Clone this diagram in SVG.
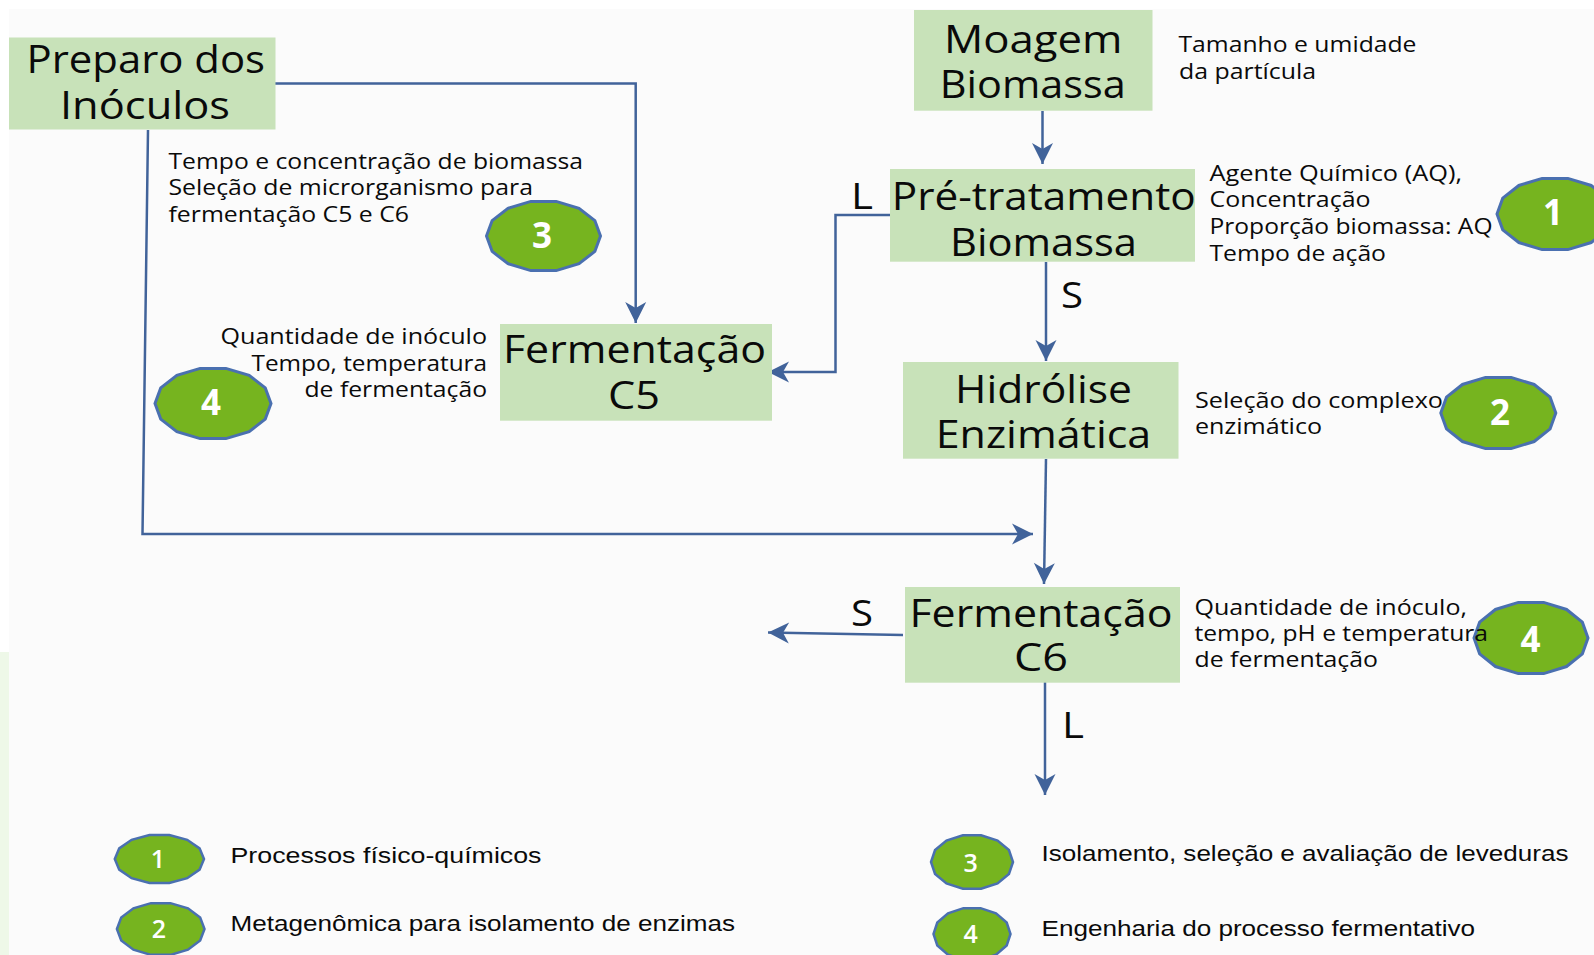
<svg xmlns="http://www.w3.org/2000/svg" xmlns:xlink="http://www.w3.org/1999/xlink" width="1594" height="955" viewBox="0 0 1594 955">
<style>
text{font-family:"Open Sans","Noto Sans",sans-serif;fill:#0a0a0a}
.box{fill:#c8e2b9}
.n{font-size:38px}
.l{font-size:37px}
.s{font-size:22px}
.e{font-family:"Liberation Sans",Arial,sans-serif;font-size:22px}
.b{fill:#76b41f;stroke:#4a70b0;stroke-width:3}
.d{fill:#fff;font-size:35px;font-weight:700;text-anchor:middle}
.g{fill:#fff;font-size:25px;font-weight:600;text-anchor:middle}
.c{fill:none;stroke:#41639a;stroke-width:2.5;stroke-linejoin:miter}
.a{marker-end:url(#arrow)}
</style>
<defs>
<marker id="arrow" markerUnits="userSpaceOnUse" markerWidth="24" markerHeight="24" refX="22" refY="11.5" orient="auto" viewBox="0 0 24 23"><path d="M22,11.5 L1,1 L7,11.5 L1,22 Z" fill="#41639a"/></marker>
<polygon id="oct" vector-effect="non-scaling-stroke" points="1,0 0.901,0.434 0.623,0.782 0.223,0.975 -0.223,0.975 -0.623,0.782 -0.901,0.434 -1,0 -0.901,-0.434 -0.623,-0.782 -0.223,-0.975 0.223,-0.975 0.623,-0.782 0.901,-0.434"/>
</defs>
<rect width="1594" height="955" fill="#fff"/>
<rect x="0" y="652" width="9" height="303" fill="#eef8e8"/>
<rect x="9" y="9" width="1585" height="946" fill="#fbfbfb"/>
<g id="connectors">
<path class="c a" d="M275,83.5H635.7V323"/>
<path class="c a" d="M148,130L142.5,534H1033"/>
<path class="c a" d="M1042.5,111V164"/>
<path class="c a" d="M890,215H835.5V372H768"/>
<path class="c a" d="M1046,262V361"/>
<path class="c a" d="M1046,459L1044,584"/>
<path class="c a" d="M903,635L768,632.5"/>
<path class="c a" d="M1045,680V795"/>
</g>
<g id="preparo"><rect class="box" x="9" y="37.5" width="266.5" height="92"/>
<text class="n" x="26.5" y="73" textLength="238.5" lengthAdjust="spacingAndGlyphs">Preparo dos</text>
<text class="n" x="60" y="118.5" textLength="170" lengthAdjust="spacingAndGlyphs">Inóculos</text></g>
<g id="moagem"><rect class="box" x="914" y="10" width="238.5" height="100.7"/>
<text class="n" x="944" y="52.5" textLength="178.5" lengthAdjust="spacingAndGlyphs">Moagem</text>
<text class="n" x="939.8" y="98.2" textLength="186" lengthAdjust="spacingAndGlyphs">Biomassa</text></g>
<g id="pretratamento"><rect class="box" x="890" y="169" width="305" height="92.7"/>
<text class="n" x="891.7" y="209.5" textLength="304" lengthAdjust="spacingAndGlyphs">Pré-tratamento</text>
<text class="n" x="950" y="255.5" textLength="187" lengthAdjust="spacingAndGlyphs">Biomassa</text></g>
<g id="hidrolise"><rect class="box" x="903" y="362" width="275.5" height="96.7"/>
<text class="n" x="955" y="402.5" textLength="177" lengthAdjust="spacingAndGlyphs">Hidrólise</text>
<text class="n" x="935.7" y="448" textLength="215.5" lengthAdjust="spacingAndGlyphs">Enzimática</text></g>
<g id="fermentacao-c5"><rect class="box" x="500" y="324" width="272" height="96.7"/>
<text class="n" x="503" y="363" textLength="263" lengthAdjust="spacingAndGlyphs">Fermentação</text>
<text class="n" x="608" y="408.5" textLength="52" lengthAdjust="spacingAndGlyphs">C5</text></g>
<g id="fermentacao-c6"><rect class="box" x="905" y="587" width="275" height="95.7"/>
<text class="n" x="909.5" y="626.5" textLength="263" lengthAdjust="spacingAndGlyphs">Fermentação</text>
<text class="n" x="1014" y="670.5" textLength="54" lengthAdjust="spacingAndGlyphs">C6</text></g>
<g id="badge-1"><use href="#oct" class="b" transform="translate(1555,214) scale(58,36.5)"/><text class="d" x="1553" y="225">1</text></g>
<g id="badge-2"><use href="#oct" class="b" transform="translate(1498.3,413) scale(57.5,36.5)"/><text class="d" x="1500" y="424.5">2</text></g>
<g id="badge-3"><use href="#oct" class="b" transform="translate(543.5,236) scale(57,35.5)"/><text class="d" x="542" y="248">3</text></g>
<g id="badge-4a"><use href="#oct" class="b" transform="translate(213,403.5) scale(58,36)"/><text class="d" x="211" y="414.5">4</text></g>
<g id="badge-4b"><use href="#oct" class="b" transform="translate(1531,638) scale(57,36.5)"/><text class="d" x="1530.6" y="652">4</text></g>
<g id="labels">
<text class="l" x="851" y="208.5" textLength="22" lengthAdjust="spacingAndGlyphs">L</text>
<text class="l" x="1061" y="307.7" textLength="22" lengthAdjust="spacingAndGlyphs">S</text>
<text class="l" x="851" y="625.5" textLength="22" lengthAdjust="spacingAndGlyphs">S</text>
<text class="l" x="1062" y="737.7" textLength="22" lengthAdjust="spacingAndGlyphs">L</text>
</g>
<g id="notes">
<text class="s" x="168.5" y="168.5" textLength="414.5" lengthAdjust="spacingAndGlyphs">Tempo e concentração de biomassa</text>
<text class="s" x="168.5" y="195" textLength="364.5" lengthAdjust="spacingAndGlyphs">Seleção de microrganismo para</text>
<text class="s" x="168.5" y="222" textLength="240.5" lengthAdjust="spacingAndGlyphs">fermentação C5 e C6</text>
<text class="s" x="220.5" y="344" textLength="266.5" lengthAdjust="spacingAndGlyphs">Quantidade de inóculo</text>
<text class="s" x="251.5" y="371" textLength="235.5" lengthAdjust="spacingAndGlyphs">Tempo, temperatura</text>
<text class="s" x="304.5" y="397" textLength="182.5" lengthAdjust="spacingAndGlyphs">de fermentação</text>
<text class="s" x="1178.5" y="51.7" textLength="238" lengthAdjust="spacingAndGlyphs">Tamanho e umidade</text>
<text class="s" x="1179" y="78.5" textLength="137" lengthAdjust="spacingAndGlyphs">da partícula</text>
<text class="s" x="1209.5" y="180.5" textLength="252.5" lengthAdjust="spacingAndGlyphs">Agente Químico (AQ),</text>
<text class="s" x="1209.5" y="207" textLength="161" lengthAdjust="spacingAndGlyphs">Concentração</text>
<text class="s" x="1209.5" y="233.5" textLength="283" lengthAdjust="spacingAndGlyphs">Proporção biomassa: AQ</text>
<text class="s" x="1209.5" y="260.5" textLength="176.5" lengthAdjust="spacingAndGlyphs">Tempo de ação</text>
<text class="s" x="1195" y="407.5" textLength="248" lengthAdjust="spacingAndGlyphs">Seleção do complexo</text>
<text class="s" x="1195" y="434" textLength="127" lengthAdjust="spacingAndGlyphs">enzimático</text>
<text class="s" x="1194.5" y="614.5" textLength="272.5" lengthAdjust="spacingAndGlyphs">Quantidade de inóculo,</text>
<text class="s" x="1194.5" y="641" textLength="293.5" lengthAdjust="spacingAndGlyphs">tempo, pH e temperatura</text>
<text class="s" x="1194.5" y="667" textLength="183.5" lengthAdjust="spacingAndGlyphs">de fermentação</text>
</g>
<g id="legend-1"><use href="#oct" class="b" transform="translate(159.4,859) scale(44.6,24.5)" style="stroke-width:2.5"/><text class="g" x="158" y="867.5">1</text>
<text class="e" x="230.5" y="862.7" textLength="311" lengthAdjust="spacingAndGlyphs">Processos físico-químicos</text></g>
<g id="legend-2"><use href="#oct" class="b" transform="translate(160.7,929) scale(43.8,26.5)" style="stroke-width:2.5"/><text class="g" x="159" y="938">2</text>
<text class="e" x="230.5" y="930.5" textLength="504.5" lengthAdjust="spacingAndGlyphs">Metagenômica para isolamento de enzimas</text></g>
<g id="legend-3"><use href="#oct" class="b" transform="translate(972,862) scale(41,27.5)" style="stroke-width:2.5"/><text class="g" x="970.6" y="871.5">3</text>
<text class="e" x="1041.5" y="861" textLength="527" lengthAdjust="spacingAndGlyphs">Isolamento, seleção e avaliação de leveduras</text></g>
<g id="legend-4"><use href="#oct" class="b" transform="translate(972,934) scale(38.5,26.5)" style="stroke-width:2.5"/><text class="g" x="970.6" y="942.5">4</text>
<text class="e" x="1041.5" y="936" textLength="433.5" lengthAdjust="spacingAndGlyphs">Engenharia do processo fermentativo</text></g>
</svg>
